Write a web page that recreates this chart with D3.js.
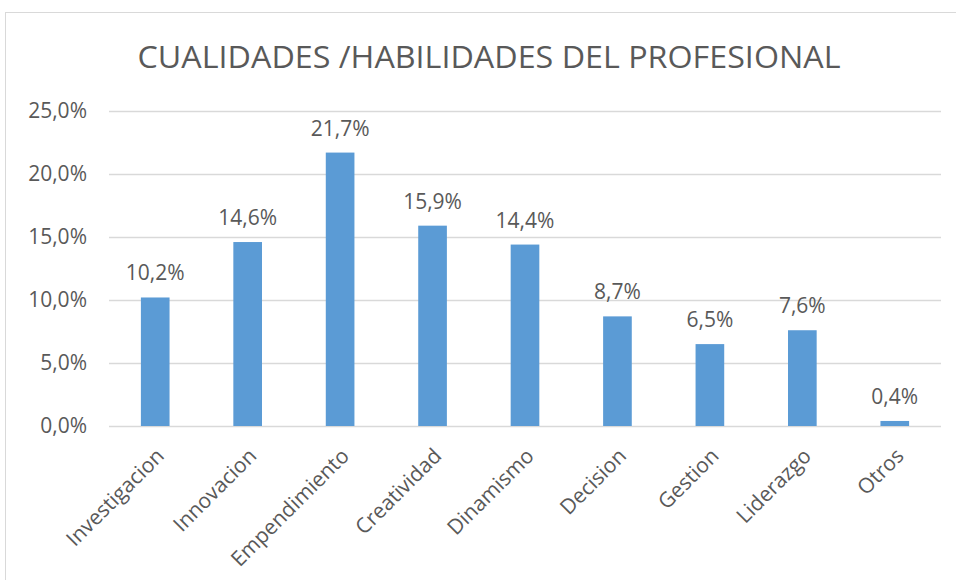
<!DOCTYPE html>
<html>
<head>
<meta charset="utf-8">
<script src="https://cdn.jsdelivr.net/npm/d3@7"></script>
<style>
  body { margin: 0; background: #fff; }
  text { font-family: "Open Sans", sans-serif; fill: #595959; }
</style>
</head>
<body>
<div class="chart"></div>
<script>
// data
var categories = ["Investigacion", "Innovacion", "Empendimiento", "Creatividad", "Dinamismo",
                  "Decision", "Gestion", "Liderazgo", "Otros"];
var values = [10.2, 14.6, 21.7, 15.9, 14.4, 8.7, 6.5, 7.6, 0.4];
var yTicks = [0, 5, 10, 15, 20, 25];
var title = "CUALIDADES /HABILIDADES DEL PROFESIONAL";

var W = 956, H = 580;
var margin = {top: 111, right: 15, bottom: 154, left: 109},
    width = W - margin.left - margin.right,
    height = H - margin.top - margin.bottom;

var svg = d3.select(".chart").append("svg")
    .attr("width", W)
    .attr("height", H);

// chart frame
svg.append("rect")
    .attr("x", 5.5).attr("y", 12.5)
    .attr("width", W).attr("height", H)
    .attr("fill", "none")
    .attr("stroke", "#d9d9d9");

svg.append("text")
    .attr("x", 489).attr("y", 68)
    .attr("text-anchor", "middle")
    .attr("font-size", 31)
    .attr("textLength", 703)
    .attr("lengthAdjust", "spacingAndGlyphs")
    .text(title);

var g = svg.append("g")
    .attr("transform", "translate(" + margin.left + "," + margin.top + ")");

var x = d3.scaleBand()
    .domain(categories)
    .range([0, width])
    .paddingInner(0.69)
    .paddingOuter(0.345);

var y = d3.scaleLinear()
    .domain([0, 25])
    .range([height, 0]);

var pct = function(d){ return d3.format(".1f")(d).replace(".", ",") + "%"; };

// gridlines
var yAxis = d3.axisLeft(y)
    .tickValues(yTicks)
    .tickSize(-width)
    .tickPadding(22)
    .tickFormat(pct);

g.append("g")
    .call(yAxis)
    .call(function(a){
        a.select(".domain").remove();
        a.selectAll(".tick line").attr("stroke", "#d9d9d9").attr("stroke-width", 1.5);
        a.selectAll(".tick text")
            .attr("font-size", 21)
            .attr("font-family", "Open Sans, sans-serif")
            .attr("fill", "#595959");
    });

// bars
g.selectAll(".bar")
    .data(values)
    .enter().append("rect")
    .attr("class", "bar")
    .attr("x", function(d, i){ return x(categories[i]); })
    .attr("width", x.bandwidth())
    .attr("y", function(d){ return y(d); })
    .attr("height", function(d){ return height - y(d); })
    .attr("fill", "#5b9bd5");

// value labels
g.selectAll(".lbl")
    .data(values)
    .enter().append("text")
    .attr("class", "lbl")
    .attr("x", function(d, i){ return x(categories[i]) + x.bandwidth() / 2; })
    .attr("y", function(d){ return y(d) - 17; })
    .attr("text-anchor", "middle")
    .attr("font-size", 21)
    .text(pct);

// category labels, rotated
g.selectAll(".cat")
    .data(categories)
    .enter().append("text")
    .attr("class", "cat")
    .attr("text-anchor", "end")
    .attr("font-size", 21)
    .attr("transform", function(d){
        var cx = x(d) + x.bandwidth() / 2 + 5;
        return "translate(" + cx + "," + (height + 26) + ") rotate(-45)";
    })
    .attr("dy", "0.35em")
    .text(function(d){ return d; });
</script>
</body>
</html>
